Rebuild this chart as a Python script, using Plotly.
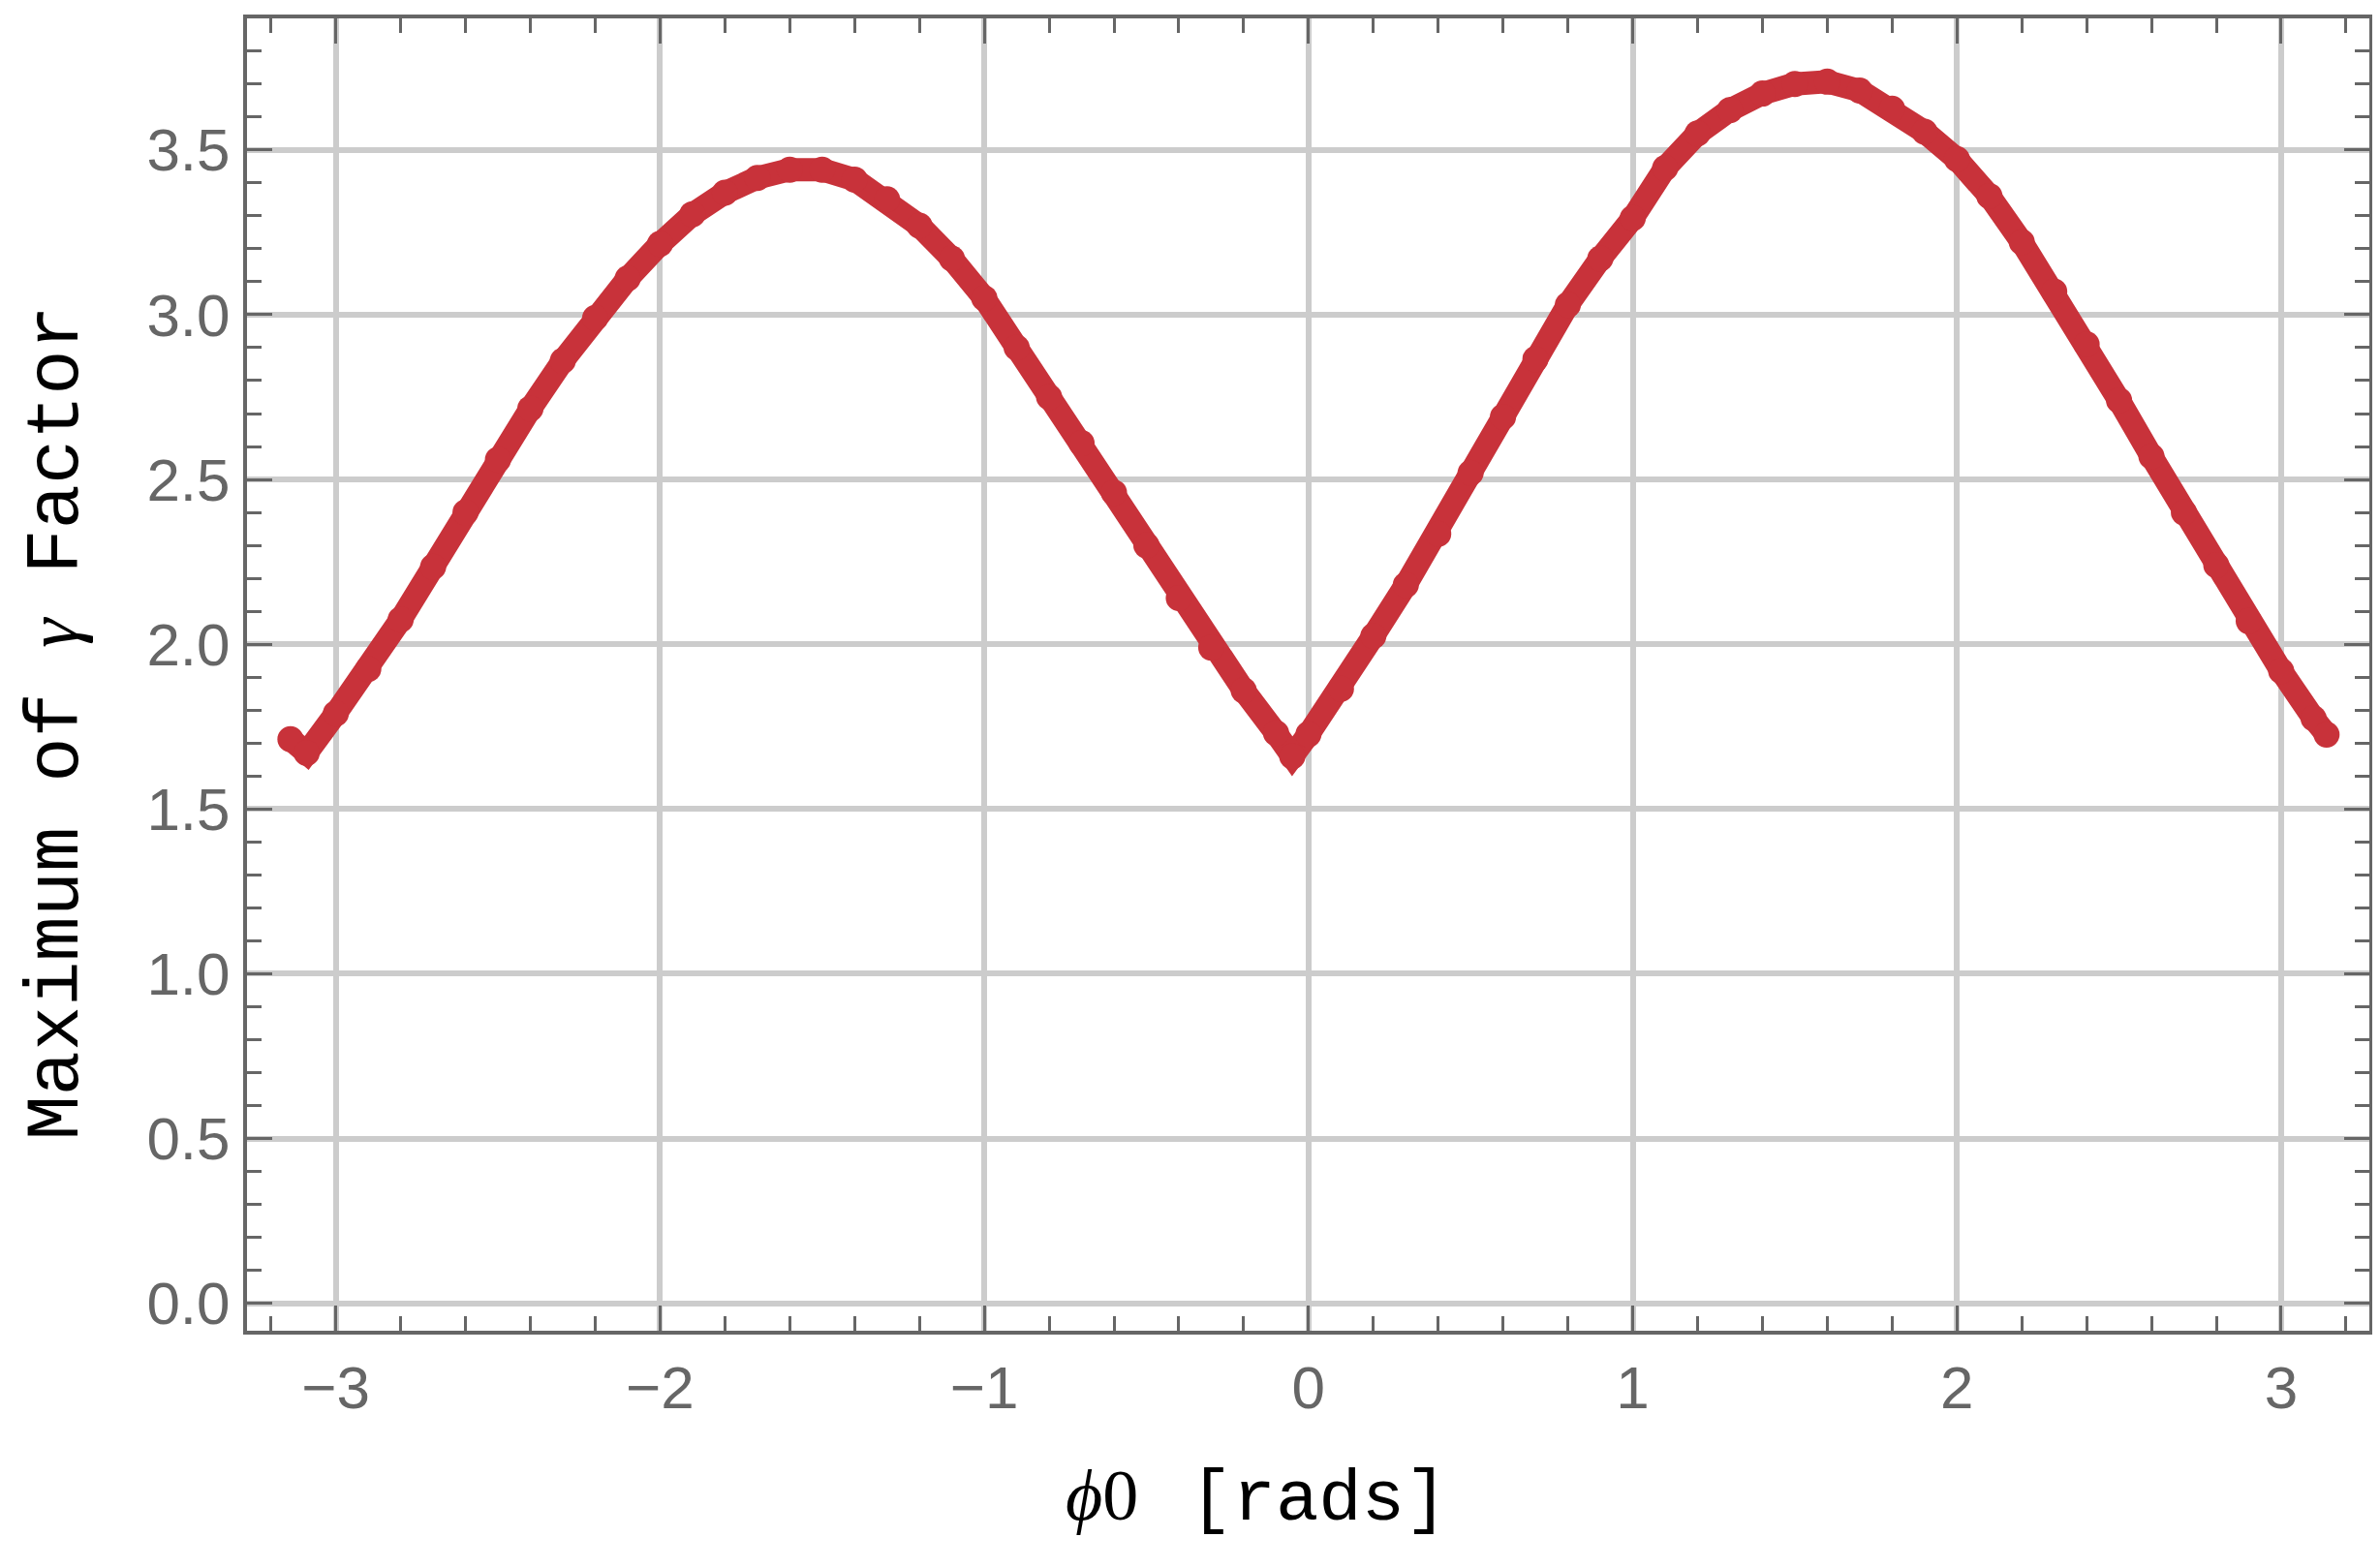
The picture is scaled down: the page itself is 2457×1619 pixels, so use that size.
import plotly.graph_objects as go

# ---------- data ----------
phi0 = [-3.14, -3.09, -3.00, -2.90, -2.80, -2.70, -2.60, -2.50, -2.40, -2.30,
        -2.20, -2.10, -2.00, -1.90, -1.80, -1.70, -1.60, -1.50, -1.40, -1.30,
        -1.20, -1.10, -1.00, -0.90, -0.80, -0.70, -0.60, -0.50, -0.40, -0.30,
        -0.20, -0.10, -0.05, 0.00, 0.10, 0.20, 0.30, 0.40, 0.50, 0.60,
        0.70, 0.80, 0.90, 1.00, 1.10, 1.20, 1.30, 1.40, 1.50, 1.60,
        1.70, 1.80, 1.90, 2.00, 2.10, 2.20, 2.30, 2.40, 2.50, 2.60,
        2.70, 2.80, 2.90, 3.00, 3.10, 3.14]
gamma_max = [1.712, 1.670, 1.790, 1.925, 2.075, 2.235, 2.400, 2.560, 2.715, 2.860,
             2.990, 3.110, 3.215, 3.305, 3.370, 3.415, 3.440, 3.440, 3.410, 3.350,
             3.270, 3.170, 3.050, 2.900, 2.750, 2.610, 2.460, 2.300, 2.140, 1.990,
             1.860, 1.730, 1.660, 1.727, 1.865, 2.025, 2.180, 2.335, 2.520, 2.690,
             2.865, 3.030, 3.170, 3.293, 3.445, 3.550, 3.621, 3.671, 3.700, 3.707,
             3.680, 3.625, 3.555, 3.472, 3.360, 3.220, 3.070, 2.910, 2.740, 2.570,
             2.400, 2.240, 2.070, 1.919, 1.775, 1.726]

x_ticks = [-3, -2, -1, 0, 1, 2, 3]
x_tick_labels = ["\u22123", "\u22122", "\u22121", "0", "1", "2", "3"]
y_ticks = [0.0, 0.5, 1.0, 1.5, 2.0, 2.5, 3.0, 3.5]
y_tick_labels = ["0.0", "0.5", "1.0", "1.5", "2.0", "2.5", "3.0", "3.5"]

RED = "#C8323A"
AXIS = "#666666"
GRID = "#cccccc"

fig = go.Figure()
fig.add_trace(go.Scatter(
    x=phi0, y=gamma_max, mode="lines+markers",
    line=dict(color=RED, width=24),
    marker=dict(color=RED, size=27),
    showlegend=False,
))

# thin dark line at phi0 = 0 (drawn between grid and data)
fig.add_shape(type="line", xref="x", yref="paper", x0=0, x1=0, y0=0, y1=1,
              line=dict(color="#777777", width=2), layer="between")

tick_font = dict(family="Liberation Sans, Arial, sans-serif", size=62, color=AXIS)
common = dict(
    tickmode="array", ticks="inside", ticklen=26, tickwidth=3, tickcolor=AXIS,
    showline=True, linecolor=AXIS, linewidth=4, mirror="allticks",
    showgrid=True, gridcolor=GRID, gridwidth=6, zeroline=False,
    tickfont=tick_font,
)

fig.update_xaxes(
    range=[-3.274, 3.272], tickvals=x_ticks, ticktext=x_tick_labels,
    minor=dict(tickmode="linear", tick0=0, dtick=0.2, ticks="inside",
               ticklen=15, tickwidth=3, tickcolor=AXIS, showgrid=False),
    ticklabelstandoff=2,
    **common,
)
fig.update_yaxes(
    range=[-0.083, 3.899], tickvals=y_ticks, ticktext=y_tick_labels,
    minor=dict(tickmode="linear", tick0=0, dtick=0.1, ticks="inside",
               ticklen=15, tickwidth=3, tickcolor=AXIS, showgrid=False),
    ticklabelstandoff=1,
    **common,
)

serif = "font-family:Liberation Serif, Times New Roman, serif"
mono = "Liberation Mono, Courier New, monospace"

fig.add_annotation(
    xref="paper", yref="paper", x=0.476, y=-0.128,
    text=(f"<span style='{serif}'><i>\u03d5</i>0</span>"
          "<span style='font-size:14px'>\u00a0</span> [rads]"),
    showarrow=False, xanchor="center", yanchor="middle",
    font=dict(family=mono, size=74, color="black"),
)
fig.add_annotation(
    xref="paper", yref="paper", x=-0.0905, y=0.463, textangle=-90,
    text=f"Maximum of <span style='{serif}'><i>\u03b3</i></span> Factor",
    showarrow=False, xanchor="center", yanchor="middle",
    font=dict(family=mono, size=77, color="black"),
)

# the page body has an 8px margin, so the figure is 8px smaller and shifted
fig.update_layout(
    width=2449, height=1611,
    margin=dict(l=247, r=7, t=11, b=245),
    plot_bgcolor="white", paper_bgcolor="white",
    showlegend=False,
)

fig.write_html("out.html")
